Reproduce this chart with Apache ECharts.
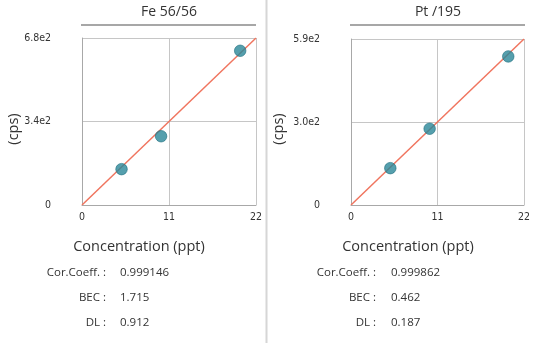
<!DOCTYPE html>
<html>
<head>
<meta charset="utf-8">
<script src="https://cdn.jsdelivr.net/npm/echarts@6/dist/echarts.min.js"></script>
<style>
html,body{margin:0;padding:0;background:#fff;}
#main{width:533px;height:343px;}
</style>
</head>
<body>
<div id="main"></div>
<script>
// ---- data ----
const panelTitles = ['Fe 56/56', 'Pt /195'];
const xTickLabels = ['0', '11', '22'];
const xMax = 22;
const feConc = [5, 10, 20];
const feCps = [146, 280, 628];
const ptConc = [5, 10, 20];
const ptCps = [131, 271, 528];
const fitConc = [0, 22];
const feFit = [0, 680];
const ptFit = [0, 590];
const feYMax = 680;
const ptYMax = 590;
const feYTickLabels = ['0', '3.4e2', '6.8e2'];
const ptYTickLabels = ['0', '3.0e2', '5.9e2'];
const statNames = ['Cor.Coeff. :', 'BEC :', 'DL :'];
const feStats = ['0.999146', '1.715', '0.912'];
const ptStats = ['0.999862', '0.462', '0.187'];
const yName = '(cps)';
const xName = 'Concentration (ppt)';

const FONT = '"Open Sans", "Noto Sans", sans-serif';
const NARROW = '"Liberation Sans Narrow", "DejaVu Sans Condensed", "Open Sans", sans-serif';
const TXT = '#333';
const chart = echarts.init(document.getElementById('main'), null, {renderer: 'canvas'});

const panels = [
  {left: 82, top: 38, width: 174, height: 167, yMax: feYMax, yLabels: feYTickLabels, conc: feConc, cps: feCps, fit: feFit, stats: feStats, cx: 169, nameRight: 106, valLeft: 120, cpsX: 14},
  {left: 351, top: 39, width: 174, height: 166, yMax: ptYMax, yLabels: ptYTickLabels, conc: ptConc, cps: ptCps, fit: ptFit, stats: ptStats, cx: 438, nameRight: 376, valLeft: 391, cpsX: 279}
];

const grids = [], xAxes = [], yAxes = [], series = [], graphics = [];
panels.forEach((p, i) => {
  grids.push({left: p.left, top: p.top, width: p.width, height: p.height, show: false});
  const xInt = xMax / (xTickLabels.length - 1);
  const yInt = p.yMax / (p.yLabels.length - 1);
  xAxes.push({
    type: 'value', gridIndex: i, min: 0, max: xMax, interval: xInt,
    axisLine: {show: true, lineStyle: {color: '#a8a8a8', width: 1}},
    axisTick: {show: false},
    splitLine: {show: true, lineStyle: {color: '#c6c6c6', width: 1}},
    axisLabel: {margin: 7, fontSize: 10.5, color: TXT, fontFamily: NARROW,
      formatter: v => xTickLabels[Math.round(v / xInt)]}
  });
  yAxes.push({
    type: 'value', gridIndex: i, min: 0, max: p.yMax, interval: yInt,
    axisLine: {show: true, lineStyle: {color: '#a8a8a8', width: 1}},
    axisTick: {show: false},
    splitLine: {show: true, lineStyle: {color: '#c6c6c6', width: 1}},
    axisLabel: {margin: 31, fontSize: 10.5, color: TXT, fontFamily: NARROW,
      formatter: v => p.yLabels[Math.round(v / yInt)]}
  });
  series.push({
    type: 'line', xAxisIndex: i, yAxisIndex: i, z: 2,
    data: fitConc.map((c, k) => [c, p.fit[k]]),
    symbol: 'none', silent: true,
    lineStyle: {color: '#f0755f', width: 1.5}
  });
  series.push({
    type: 'scatter', xAxisIndex: i, yAxisIndex: i, z: 3,
    data: p.conc.map((c, k) => [c, p.cps[k]]),
    symbolSize: 11.5,
    itemStyle: {color: '#2a8799', borderColor: '#1f6f80', borderWidth: 0.8}
  });
  // title
  graphics.push({type: 'text', x: p.cx, y: 12, style: {text: panelTitles[i], x: 0, y: 0, align: 'center', verticalAlign: 'middle', fontSize: 14, fontFamily: FONT, fill: TXT}});
  graphics.push({type: 'line', shape: {x1: p.left - 1, y1: 25, x2: p.left + p.width, y2: 25}, style: {stroke: '#8a8a8a', lineWidth: 1.5}});
  // y name
  graphics.push({type: 'text', x: p.cpsX, y: 129, rotation: Math.PI / 2, style: {text: yName, align: 'center', verticalAlign: 'middle', fontSize: 14.5, fontFamily: FONT, fill: TXT}});
  // x name
  graphics.push({type: 'text', x: p.left + 57, y: 247, style: {text: xName, align: 'center', verticalAlign: 'middle', fontSize: 14.5, fontFamily: FONT, fill: TXT}});
  // stats
  statNames.forEach((n, k) => {
    graphics.push({type: 'text', x: p.nameRight, y: 273 + k * 25, style: {text: n, align: 'right', verticalAlign: 'middle', fontSize: 11.5, fontFamily: FONT, fill: TXT}});
    graphics.push({type: 'text', x: p.valLeft, y: 273 + k * 25, style: {text: p.stats[k], align: 'left', verticalAlign: 'middle', fontSize: 11.5, fontFamily: FONT, fill: TXT}});
  });
});
// separator
graphics.push({type: 'rect', shape: {x: 265.5, y: 0, width: 2, height: 343}, style: {fill: '#d6d6d6'}});

chart.setOption({
  animation: false,
  grid: grids,
  xAxis: xAxes,
  yAxis: yAxes,
  series: series,
  graphic: graphics
});
</script>
</body>
</html>
